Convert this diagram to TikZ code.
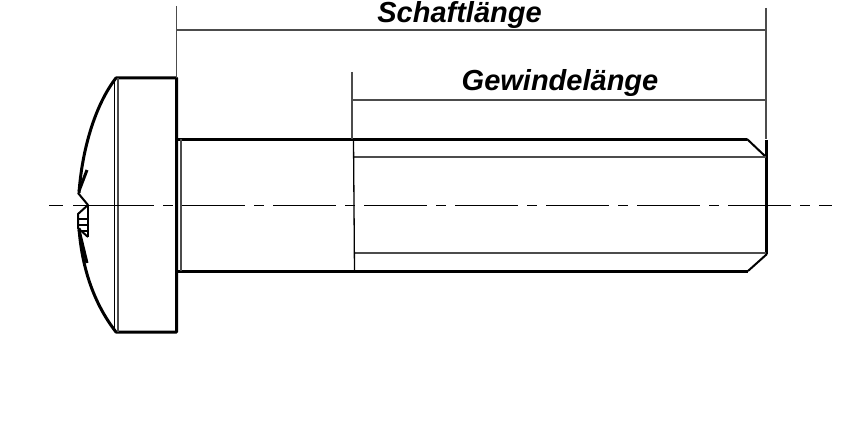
\documentclass[tikz,border=0pt]{standalone}
\usepackage{fontspec}
\setmainfont{Liberation Sans}
\usepackage{tikz}
\tikzset{
	outline/.style={line width=3pt, line join=round},
	fine/.style={line width=1pt},
	hatch/.style={line width=2pt},
	edge/.style={line width=1.7pt, black!70},
	centre/.style={line width=1pt},
	measure/.style={font=\fontsize{29}{32}\selectfont\bfseries\itshape, inner sep=0pt, anchor=base},
}

\begin{document}
\begin{tikzpicture}[x=1pt, y=-1pt]
	\useasboundingbox (0,0) rectangle (860,444);

	% Head
	\draw[outline] (79,193) .. controls (82,150) and (95,105) .. (116,78) -- (176.5,78) -- (176.5,332) -- (116,332)
	.. controls (95,305) and (82,270) .. (79,228);
	\draw[fine] (114,78) -- (114,332);
	\draw[edge] (118,78) -- (118,332);

	% Recess
	\draw[outline, line width=2pt] (78,193) -- (88,205) -- (78,214) -- (78,228) -- (88,237);
	\draw[outline, line width=2pt] (88,205) -- (88,237);
	\draw[outline] (87,170) -- (79,191);
	\draw[outline] (79,230) -- (87,263);
	\foreach \y in {219,225,231}
		\draw[hatch] (79,\y) -- (88,\y);

	% Shaft
	\draw[outline] (177,139) -- (747,139);
	\draw[outline, line width=2pt] (747,139) -- (766,157);
	\draw[outline] (766,140) -- (766,254);
	\draw[outline, line width=2pt] (767,254) -- (748,271);
	\draw[outline] (177,271) -- (748,271);
	\draw[edge] (181,139) -- (181,271);

	% Thread
	\draw[edge] (353,157) -- (766,157);
	\draw[edge] (354,253) -- (766,253);
	\draw[line width=1.3pt] (353.5,139) -- (354.5,272);

	% Dimensions
	\draw[edge] (176.5,6) -- (176.5,78);
	\draw[line width=1.6pt] (176.5,78) -- (177,139);
	\draw[edge] (766,8) -- (766,139);
	\draw[edge] (352,72) -- (352,139);
	\draw[edge] (177,30) -- (766,30);
	\draw[edge] (352,100) -- (766,100);
	\node[measure] (shaft) at (459.5,23) {Schaftlänge};
	\node[measure] (thread) at (560,91) {Gewindelänge};

	% Centre line
	\draw[centre, dash pattern=on 14pt off 10pt on 81pt off 9pt on 10pt off 9pt] (49,205) -- (182,205);
	\draw[centre, dash pattern=on 63pt off 9pt on 10pt off 9pt] (182,205) -- (832,205);
\end{tikzpicture}
\end{document}
